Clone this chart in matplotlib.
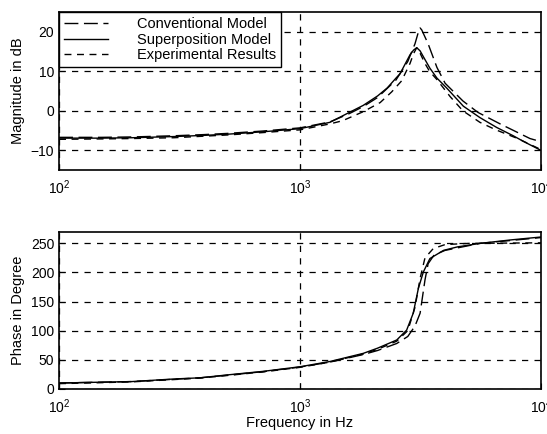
import matplotlib
matplotlib.use('Agg')
import matplotlib.pyplot as plt
from matplotlib.ticker import LogLocator, NullLocator, FixedLocator

plt.rcParams['font.family'] = ['Liberation Sans', 'DejaVu Sans']
plt.rcParams['mathtext.fontset'] = 'custom'
plt.rcParams['mathtext.rm'] = 'Liberation Sans'

# --- magnitude (dB) ---
f_sup_mag = [100, 150, 200, 300, 400, 500, 700, 1000, 1330, 1600, 1830, 2100, 2300,
             2510, 2600, 2860, 2960, 3050, 3150, 3300, 3460, 3700, 4060, 4760,
             5580, 6550, 7670, 8500, 10000]
sup_mag = [-6.9, -6.9, -6.8, -6.5, -6.2, -5.9, -5.3, -4.5, -2.9, -0.4, 1.4, 3.8, 5.8,
           8.4, 9.4, 14.2, 15.4, 16.0, 15.2, 13.0, 10.8, 8.3, 5.8, 1.2,
           -1.7, -4.2, -6.3, -7.8, -10.0]

f_conv_mag = [100, 150, 200, 300, 400, 500, 700, 1000, 1330, 1600, 1830, 2100, 2500,
              2800, 3000, 3100, 3150, 3200, 3400, 3700, 4000, 4745, 5480, 6770,
              9000, 10000]
conv_mag = [-6.7, -6.7, -6.6, -6.3, -6.0, -5.7, -5.1, -4.3, -2.8, -0.7, 1.1, 3.4, 7.8,
            12.5, 17.0, 20.0, 21.0, 20.5, 17.0, 11.0, 7.0, 2.5, -0.4, -3.3,
            -7.0, -7.8]

f_exp_mag = [100, 150, 200, 300, 400, 500, 700, 1000, 1330, 1500, 1830, 2150, 2400,
             2640, 2860, 2960, 3050, 3150, 3300, 3450, 3690, 4200, 4745, 5580,
             6500, 8000, 10000]
exp_mag = [-7.2, -7.1, -7.0, -6.8, -6.4, -6.1, -5.5, -4.8, -3.3, -2.5, -0.2, 2.1, 4.8,
           7.6, 12.0, 14.5, 16.0, 14.6, 12.0, 10.0, 8.0, 3.6, 0.0, -2.9,
           -4.8, -7.0, -9.8]

# --- phase (degree) ---
f_sup_ph = [100, 130, 200, 300, 385, 500, 700, 1000, 1330, 1830, 2100, 2520, 2770,
            2950, 3100, 3250, 3460, 3940, 4500, 5580, 7500, 10000]
sup_ph = [10, 11, 12.5, 17, 19, 24, 30, 38, 47, 61, 70, 84, 101,
          130, 173, 201, 224, 238, 244, 250, 256, 261]

f_conv_ph = [100, 130, 200, 300, 385, 500, 700, 1000, 1330, 1830, 2100, 2520, 2800,
             3000, 3150, 3300, 3400, 3600, 4000, 5580, 7500, 10000]
conv_ph = [10, 11, 12.5, 16.5, 19, 23.5, 29.5, 37.5, 46, 59, 66, 78, 90,
           108, 130, 187, 215, 230, 238, 250, 255, 260]

f_exp_ph = [100, 130, 200, 300, 385, 500, 700, 1000, 1330, 1830, 2100, 2520, 2800,
            3000, 3150, 3300, 3570, 4000, 5000, 7000, 10000]
exp_ph = [9, 10, 12, 16, 18.5, 23, 29, 37, 46, 60, 68, 82, 100,
          140, 190, 225, 241, 248, 250, 250.5, 251]

labels = ['Conventional Model', 'Superposition Model', 'Experimental Results']
long_dash = (10, 4)
short_dash = (5, 4)

fig = plt.figure(figsize=(5.47, 4.34), dpi=100)
ax1 = fig.add_axes([0.108, 0.608, 0.881, 0.364])
ax2 = fig.add_axes([0.108, 0.104, 0.881, 0.362])

ax1.plot(f_conv_mag, conv_mag, color='k', lw=1.0, dashes=long_dash, label=labels[0])
ax1.plot(f_sup_mag, sup_mag, color='k', lw=1.0, label=labels[1])
ax1.plot(f_exp_mag, exp_mag, color='k', lw=1.0, dashes=short_dash, label=labels[2])

ax2.plot(f_conv_ph, conv_ph, color='k', lw=1.0, dashes=long_dash)
ax2.plot(f_sup_ph, sup_ph, color='k', lw=1.0)
ax2.plot(f_exp_ph, exp_ph, color='k', lw=1.0, dashes=short_dash)

for ax in (ax1, ax2):
    ax.set_xscale('log')
    ax.set_xlim(100, 10000)
    ax.xaxis.set_major_locator(LogLocator(base=10))
    ax.xaxis.set_minor_locator(NullLocator())
    ax.grid(True, which='major', color='k', linestyle=(0, (5, 5)), lw=0.9)
    ax.tick_params(direction='in', labelsize=10, length=4, width=0.8)
    ax.tick_params(axis='x', pad=6)
    for s in ax.spines.values():
        s.set_linewidth(1.2)

ax1.set_ylim(-15, 25)
ax1.yaxis.set_major_locator(FixedLocator([-10, 0, 10, 20]))
ax1.set_ylabel('Magnitude in dB', fontsize=10.5)

ax2.set_ylim(0, 270)
ax2.yaxis.set_major_locator(FixedLocator([0, 50, 100, 150, 200, 250]))
ax2.set_ylabel('Phase in Degree', fontsize=10.5)
ax2.set_xlabel('Frequency in Hz', fontsize=10.5, labelpad=0)

leg = ax1.legend(loc='upper left', borderaxespad=0, fancybox=False, framealpha=1,
                 edgecolor='k', fontsize=10.5, handlelength=3.0, handletextpad=2.0,
                 labelspacing=0.1, borderpad=0.35)
leg.get_frame().set_linewidth(1.0)

fig.savefig('out.png', dpi=100)
